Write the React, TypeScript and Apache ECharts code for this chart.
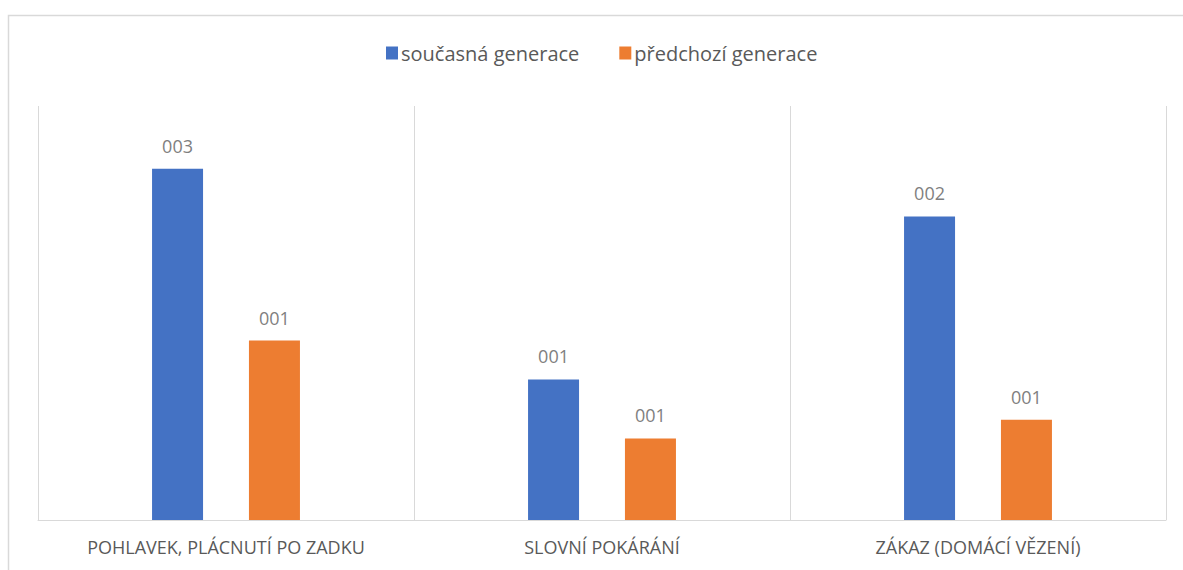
import React, { useEffect, useRef } from "react";
import * as echarts from "echarts";

const categories = [
  "POHLAVEK, PLÁCNUTÍ PO ZADKU",
  "SLOVNÍ POKÁRÁNÍ",
  "ZÁKAZ (DOMÁCÍ VĚZENÍ)",
];
const seriesNames = ["současná generace", "předchozí generace"];
const currentGen = [2.8, 1.12, 2.42];
const previousGen = [1.43, 0.65, 0.8];
const colors = ["#4472C4", "#ED7D31"];

const fmt = (v: number) => String(Math.round(v)).padStart(3, "0");

export default function App() {
  const ref = useRef<HTMLDivElement>(null);
  useEffect(() => {
    if (!ref.current) return;
    const chart = echarts.init(ref.current, undefined, { renderer: "svg" });
    const labelCfg = {
      show: true,
      position: "top" as const,
      distance: 14,
      color: "#7f7f7f",
      fontFamily: "Open Sans",
      fontSize: 18,
      formatter: (p: any) => fmt(p.value),
    };
    chart.setOption({
      animation: false,
      backgroundColor: "#ffffff",
      color: colors,
      graphic: [
        {
          type: "rect",
          shape: { x: 8.5, y: 15.5, width: 1300, height: 700 },
          style: { fill: "none", stroke: "#d9d9d9", lineWidth: 1.5 },
          silent: true,
        },
      ],
      legend: {
        left: 381,
        top: 38,
        itemWidth: 12,
        itemHeight: 13,
        itemGap: 40,
        icon: "rect",
        textStyle: { color: "#595959", fontFamily: "Open Sans", fontSize: 20, padding: [0, 0, 0, -2] },
        data: seriesNames,
      },
      grid: { left: 38, right: 17, top: 106, bottom: 50, containLabel: false },
      xAxis: {
        type: "category",
        data: categories,
        axisLine: { show: true, lineStyle: { color: "#d9d9d9", width: 1 } },
        axisTick: { show: false },
        splitLine: { show: true, lineStyle: { color: "#d9d9d9", width: 1 } },
        axisLabel: {
          color: "#595959",
          fontFamily: "Open Sans",
          fontSize: 18,
          margin: 18,
          interval: 0,
        },
      },
      yAxis: {
        type: "value",
        min: 0,
        max: 3.3,
        show: false,
        splitLine: { show: false },
      },
      series: [
        {
          name: seriesNames[0],
          type: "bar",
          data: currentGen,
          barWidth: 51,
          barGap: "90%",
          itemStyle: { color: colors[0] },
          label: labelCfg,
        },
        {
          name: seriesNames[1],
          type: "bar",
          data: previousGen,
          barWidth: 51,
          itemStyle: { color: colors[1] },
          label: labelCfg,
        },
      ],
    });
    return () => chart.dispose();
  }, []);
  return (
    <div
      ref={ref}
      style={{ position: "absolute", left: 0, top: 0, width: 1183, height: 570 }}
    />
  );
}
